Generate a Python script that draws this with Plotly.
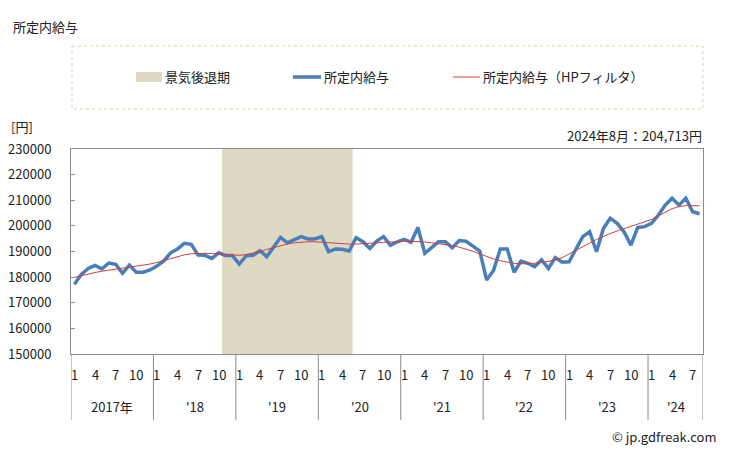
import plotly.graph_objects as go

# ---------------- data ----------------
years = ["2017年", "'18", "'19", "'20", "'21", "'22", "'23", "'24"]
month_labels = ["1", "4", "7", "10"]
n_months = 92  # Jan 2017 .. Aug 2024

wage = [
    177200, 181100, 183400, 184600, 183200, 185500, 185000, 181500, 184700, 181900, 181900, 182800,  # 2017
    184300, 186300, 189500, 191000, 193200, 192800, 188600, 188500, 187300, 189500, 188400, 188400,  # 2018
    185100, 188300, 188500, 190300, 188000, 191900, 195500, 193400, 194500, 195800, 194900, 194900,  # 2019
    195800, 189900, 191000, 190900, 190200, 195400, 193800, 191200, 194100, 195800, 192400, 193800,  # 2020
    194700, 193600, 199400, 189300, 191500, 193800, 193800, 191400, 194300, 194000, 192100, 190200,  # 2021
    178900, 182600, 191000, 191000, 181900, 186300, 185400, 184100, 186700, 183400, 187600, 185800,  # 2022
    186000, 191200, 195800, 197700, 189900, 199000, 203000, 201000, 197700, 192500, 199400, 199700,  # 2023
    201000, 204200, 208100, 210800, 208100, 210800, 205500, 204713,                                  # 2024
]

wage_hp = [
    179900, 180600, 181200, 181800, 182300, 182700, 183100, 183500, 183800, 184100, 184600, 185100,
    185700, 186400, 187200, 188000, 188700, 189100, 189300, 189300, 189200, 189000, 188700, 188500,
    188500, 188800, 189300, 190000, 190800, 191600, 192300, 192900, 193400, 193700, 193800, 193800,
    193600, 193400, 193200, 193000, 192900, 192900, 193000, 193200, 193400, 193600, 193800, 193900,
    194000, 194000, 193900, 193700, 193400, 193100, 192800, 192300, 191700, 191000, 190100, 189100,
    188000, 187100, 186400, 185800, 185400, 185200, 185200, 185400, 185700, 186100, 186700, 187600,
    189100, 190500, 191900, 193300, 194700, 196000, 197000, 198000, 198900, 199700, 200500, 201400,
    202500, 203900, 205400, 206700, 207500, 207900, 207900, 207800,
]

recession = (21.5, 40.5)  # Nov 2018 .. May 2020 (category index bounds)

latest_label = "2024年8月：204,713円"
title = "所定内給与"
unit = "[円]"
legend_names = ["景気後退期", "所定内給与", "所定内給与（HPフィルタ）"]

# ---------------- styling ----------------
FONT = "Noto Sans CJK JP"
BLUE = "#4a7ebb"
RED = "#d0403a"
SHADE = "#ddd9c3"
AXIS = "#8c8c8c"

W, H = 729, 451
L, R, T, B = 71, 703, 149, 354  # plot area in pixels


def px(x):
    return (x - L) / (R - L)


def py(y):
    return (B - y) / (B - T)


x = list(range(n_months))

fig = go.Figure()
fig.add_trace(go.Scatter(x=x, y=wage, mode="lines",
                         line=dict(color=BLUE, width=3.5), showlegend=False))
fig.add_trace(go.Scatter(x=x, y=wage_hp, mode="lines",
                         line=dict(color=RED, width=1), showlegend=False))

shapes = []
annotations = []

# recession shading
shapes.append(dict(type="rect", xref="x", yref="paper", x0=recession[0], x1=recession[1],
                   y0=0, y1=1, fillcolor=SHADE, line=dict(width=0), layer="below"))

# year separators and labels
sep_bottom = py(420)
for k, yl in enumerate(years):
    start = k * 12 - 0.5
    end = min((k + 1) * 12, n_months) - 0.5
    shapes.append(dict(type="line", xref="x", yref="paper", x0=start, x1=start,
                       y0=0, y1=sep_bottom, line=dict(color=AXIS, width=1)))
    annotations.append(dict(xref="x", yref="paper", x=(start + end) / 2, y=py(406),
                            text=yl, showarrow=False, xanchor="center", yanchor="middle",
                            font=dict(family=FONT, size=13, color="#222")))
    for j, ml in enumerate(month_labels):
        idx = k * 12 + j * 3
        if idx < n_months:
            annotations.append(dict(xref="x", yref="paper", x=idx, y=py(374),
                                    text=ml, showarrow=False, xanchor="center", yanchor="middle",
                                    font=dict(family=FONT, size=13, color="#222")))
shapes.append(dict(type="line", xref="x", yref="paper", x0=n_months - 0.5, x1=n_months - 0.5,
                   y0=0, y1=sep_bottom, line=dict(color=AXIS, width=1)))

# legend box (manual)
shapes.append(dict(type="rect", xref="paper", yref="paper", x0=px(72), x1=px(703),
                   y0=py(46), y1=py(109), line=dict(color="#d8d4b0", width=1, dash="dot"),
                   fillcolor="rgba(0,0,0,0)"))
ly = 77
shapes.append(dict(type="rect", xref="paper", yref="paper", x0=px(136), x1=px(162),
                   y0=py(82), y1=py(72), fillcolor=SHADE, line=dict(width=0)))
shapes.append(dict(type="line", xref="paper", yref="paper", x0=px(293), x1=px(321),
                   y0=py(ly), y1=py(ly), line=dict(color=BLUE, width=3.5)))
shapes.append(dict(type="line", xref="paper", yref="paper", x0=px(453), x1=px(480),
                   y0=py(ly), y1=py(ly), line=dict(color=RED, width=1)))
for tx, name in zip([163, 322, 481], legend_names):
    annotations.append(dict(xref="paper", yref="paper", x=px(tx), y=py(ly), text=name,
                            showarrow=False, xanchor="left", yanchor="middle",
                            font=dict(family=FONT, size=13, color="#222")))

# texts
annotations.append(dict(xref="paper", yref="paper", x=px(11), y=py(27), text=title,
                        showarrow=False, xanchor="left", yanchor="middle",
                        font=dict(family=FONT, size=13, color="#222")))
annotations.append(dict(xref="paper", yref="paper", x=px(9), y=py(127), text=unit,
                        showarrow=False, xanchor="left", yanchor="middle",
                        font=dict(family=FONT, size=13, color="#222")))
annotations.append(dict(xref="paper", yref="paper", x=px(704), y=py(135), text=latest_label,
                        showarrow=False, xanchor="right", yanchor="middle",
                        font=dict(family=FONT, size=13, color="#222")))
annotations.append(dict(xref="paper", yref="paper", x=px(719), y=py(436), text="© jp.gdfreak.com",
                        showarrow=False, xanchor="right", yanchor="middle",
                        font=dict(family=FONT, size=13, color="#222")))

fig.update_layout(
    width=W, height=H,
    margin=dict(l=L, r=W - R, t=T, b=H - B, pad=0, autoexpand=False),
    paper_bgcolor="white", plot_bgcolor="white",
    showlegend=False,
    shapes=shapes, annotations=annotations,
    font=dict(family=FONT, size=13, color="#222"),
    xaxis=dict(range=[-0.5, n_months - 0.5], showticklabels=False, ticks="",
               showgrid=False, zeroline=False, showline=True, linecolor=AXIS,
               linewidth=1, mirror=True, fixedrange=True, automargin=False),
    yaxis=dict(range=[150000, 230000], dtick=10000, tickformat="d",
               ticks="inside", ticklen=4, tickcolor=AXIS, showgrid=False,
               zeroline=False, showline=True, linecolor=AXIS, linewidth=1, mirror=True,
               ticklabelstandoff=16, tickfont=dict(family=FONT, size=13, color="#222"),
               fixedrange=True, automargin=False),
)

fig.write_html("out.html")
